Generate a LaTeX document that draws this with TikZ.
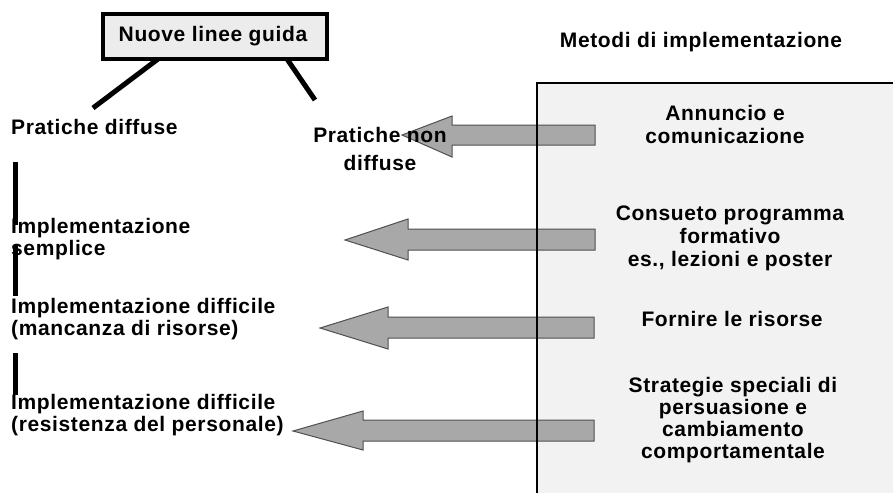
\documentclass[tikz,border=0pt]{standalone}
\usepackage{fontspec}
\setmainfont{Liberation Sans}[LetterSpace=3]
\definecolor{panelgray}{HTML}{F2F2F2}
\definecolor{boxgray}{HTML}{ECECEC}
\definecolor{arrowgray}{HTML}{A8A8A8}
\definecolor{arrowedge}{HTML}{505050}
\begin{document}
\begin{tikzpicture}[x=1pt,y=-1pt,
  txt/.style={font=\fontsize{21}{22}\selectfont\bfseries, inner sep=0pt},
  lefttxt/.style={txt, align=left, anchor=base west},
  righttxt/.style={txt, font=\fontsize{21}{23}\selectfont\bfseries, align=center, anchor=base},
  bigarrow/.style={fill=arrowgray, draw=arrowedge, line width=1pt, line join=miter},
  leg/.style={line width=5pt, black},
  bar/.style={line width=5pt, black}]
\useasboundingbox (0,0) rectangle (893,493);
% right panel
\fill[panelgray] (537,83) rectangle (893,493);
% arrows
\draw[bigarrow] (595,125) -- (452,125) -- (452,116) -- (402,135) -- (452,157) -- (452,145) -- (595,145) -- cycle;
\draw[bigarrow] (595,229) -- (408,229) -- (408,219) -- (345,240) -- (408,260) -- (408,250) -- (595,250) -- cycle;
\draw[bigarrow] (594,317) -- (388,317) -- (388,307) -- (320,328) -- (388,349) -- (388,338) -- (594,338) -- cycle;
\draw[bigarrow] (594,420) -- (363,420) -- (363,411) -- (293,431) -- (363,450) -- (363,441) -- (594,441) -- cycle;
% panel border
\draw[line width=2.5pt] (893,83) -- (537,83) -- (537,493);
% guideline box
\node[draw=black, line width=4pt, fill=boxgray, minimum width=224pt, minimum height=45pt, inner sep=0pt] (box) at (215,36.5) {};
\node[txt, anchor=base] (boxtxt) at (213,41) {Nuove linee guida};
\coordinate (legL) at (93,108);
\coordinate (legR) at (315,100);
\draw[leg] (158,59) -- (legL);
\draw[leg] (287,59) -- (legR);
% left labels (anchor = baseline of last line)
\node[lefttxt] (pd) at (11,134) {Pratiche diffuse};
\node[txt, font=\fontsize{21}{28}\selectfont\bfseries, align=center, anchor=base] (pnd) at (380,170) {Pratiche non\\diffuse};
\node[lefttxt] (is) at (11,255) {Implementazione\\semplice};
\node[lefttxt] (idm) at (11,335) {Implementazione difficile\\(mancanza di risorse)};
\node[lefttxt] (idr) at (11,431) {Implementazione difficile\\(resistenza del personale)};
% left bars
\draw[bar] (15,162) -- (15,225);
\draw[bar] (15,245) -- (15,296);
\draw[bar] (15,353) -- (15,395);
% right labels (anchor = baseline of last line)
\node[righttxt] (title) at (701,47) {Metodi di implementazione};
\node[righttxt] (ann) at (725,143) {Annuncio e\\comunicazione};
\node[righttxt] (cons) at (730,266) {Consueto programma\\formativo\\es., lezioni e poster};
\node[righttxt] (forn) at (732,326) {Fornire le risorse};
\node[righttxt, font=\fontsize{21}{22}\selectfont\bfseries] (strat) at (733,458) {Strategie speciali di\\persuasione e\\cambiamento\\comportamentale};
\end{tikzpicture}
\end{document}
